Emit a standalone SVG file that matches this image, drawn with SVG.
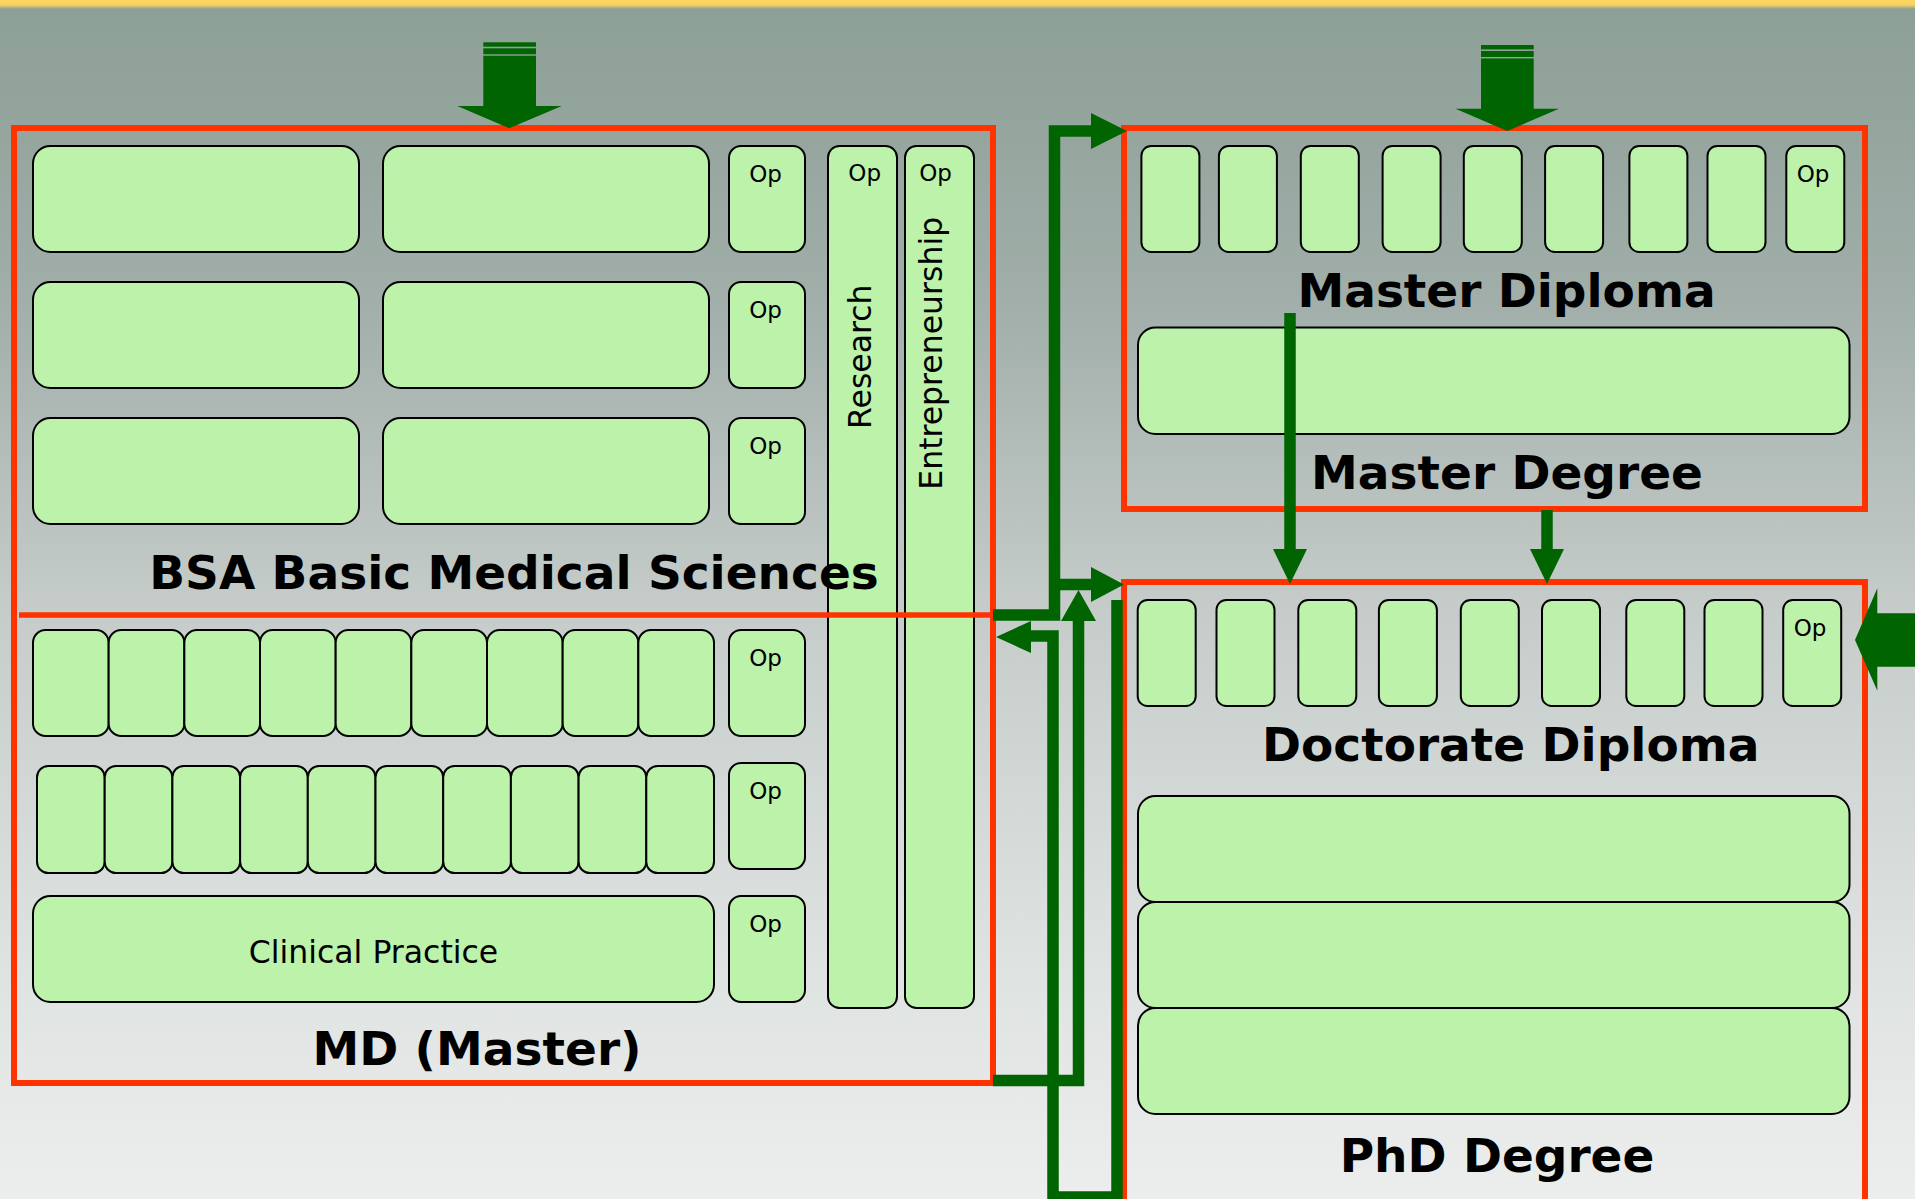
<svg xmlns="http://www.w3.org/2000/svg" width="1915" height="1199" viewBox="0 0 1915 1199">
<defs>
<linearGradient id="bg" x1="0" y1="0" x2="0" y2="1">
<stop offset="0" stop-color="#8c9f96"/>
<stop offset="0.25" stop-color="#a1aea9"/>
<stop offset="0.5" stop-color="#c4cbc8"/>
<stop offset="0.75" stop-color="#dadfdd"/>
<stop offset="1" stop-color="#eceeed"/>
</linearGradient>
<linearGradient id="yl" x1="0" y1="0" x2="0" y2="1">
<stop offset="0" stop-color="#fbd660"/>
<stop offset="0.55" stop-color="#f7d262"/>
<stop offset="1" stop-color="#8c9f96"/>
</linearGradient>
<style>
.g{fill:#bcf2aa;stroke:#000;stroke-width:2}
.red{fill:none;stroke:#ff3300;stroke-width:6}
.t{font-family:"DejaVu Sans",Verdana,sans-serif;fill:#000}
.title{font-size:47px;font-weight:bold;text-anchor:middle}
.op{font-size:23px;text-anchor:middle}
.lbl{font-size:31.5px;text-anchor:middle}
.conn{fill:none;stroke:#006400;stroke-width:11.5;stroke-linejoin:miter;stroke-linecap:butt}
.head{fill:#006400}
</style>
</defs>
<rect x="0" y="0" width="1915" height="1199" fill="url(#bg)"/>
<rect x="0" y="0" width="1915" height="9" fill="url(#yl)"/>

<g id="bsa-md">
<rect class="red" x="14" y="128" width="979" height="955"/>
<g id="bsa-row1">
<rect class="g" x="33" y="146" width="326" height="106" rx="17.5"/>
<rect class="g" x="383" y="146" width="326" height="106" rx="17.5"/>
<rect class="g" x="729" y="146" width="76" height="106" rx="12"/>
<text class="t op" x="765.6" y="182">Op</text>
</g>
<g id="bsa-row2">
<rect class="g" x="33" y="282" width="326" height="106" rx="17.5"/>
<rect class="g" x="383" y="282" width="326" height="106" rx="17.5"/>
<rect class="g" x="729" y="282" width="76" height="106" rx="12"/>
<text class="t op" x="765.6" y="318">Op</text>
</g>
<g id="bsa-row3">
<rect class="g" x="33" y="418" width="326" height="106" rx="17.5"/>
<rect class="g" x="383" y="418" width="326" height="106" rx="17.5"/>
<rect class="g" x="729" y="418" width="76" height="106" rx="12"/>
<text class="t op" x="765.6" y="454">Op</text>
</g>
<g id="research">
<rect class="g" x="828" y="146" width="69" height="862" rx="11.5"/>
<text class="t op" x="864.7" y="181">Op</text>
<text class="t lbl" x="871" y="356.7" transform="rotate(-90 871 356.7)">Research</text>
</g>
<g id="entrepreneurship">
<rect class="g" x="905" y="146" width="69" height="862" rx="11.5"/>
<text class="t op" x="935.5" y="181">Op</text>
<text class="t lbl" x="942" y="353.3" transform="rotate(-90 942 353.3)">Entrepreneurship</text>
</g>
<g id="md-rowA">
<rect class="g" x="33" y="630" width="75.67" height="106" rx="12.6"/>
<rect class="g" x="108.67" y="630" width="75.67" height="106" rx="12.6"/>
<rect class="g" x="184.33" y="630" width="75.67" height="106" rx="12.6"/>
<rect class="g" x="260" y="630" width="75.67" height="106" rx="12.6"/>
<rect class="g" x="335.67" y="630" width="75.67" height="106" rx="12.6"/>
<rect class="g" x="411.33" y="630" width="75.67" height="106" rx="12.6"/>
<rect class="g" x="487" y="630" width="75.67" height="106" rx="12.6"/>
<rect class="g" x="562.67" y="630" width="75.67" height="106" rx="12.6"/>
<rect class="g" x="638.33" y="630" width="75.67" height="106" rx="12.6"/>
<rect class="g" x="729" y="630" width="76" height="106" rx="12"/>
<text class="t op" x="765.6" y="666">Op</text>
</g>
<g id="md-rowB">
<rect class="g" x="37" y="766" width="67.7" height="107" rx="11.3"/>
<rect class="g" x="104.7" y="766" width="67.7" height="107" rx="11.3"/>
<rect class="g" x="172.4" y="766" width="67.7" height="107" rx="11.3"/>
<rect class="g" x="240.1" y="766" width="67.7" height="107" rx="11.3"/>
<rect class="g" x="307.8" y="766" width="67.7" height="107" rx="11.3"/>
<rect class="g" x="375.5" y="766" width="67.7" height="107" rx="11.3"/>
<rect class="g" x="443.2" y="766" width="67.7" height="107" rx="11.3"/>
<rect class="g" x="510.9" y="766" width="67.7" height="107" rx="11.3"/>
<rect class="g" x="578.6" y="766" width="67.7" height="107" rx="11.3"/>
<rect class="g" x="646.3" y="766" width="67.7" height="107" rx="11.3"/>
<rect class="g" x="729" y="763" width="76" height="106" rx="12"/>
<text class="t op" x="765.6" y="799">Op</text>
</g>
<g id="md-rowC">
<rect class="g" x="33" y="896" width="681" height="106" rx="17.5"/>
<text class="t lbl" x="373.5" y="963">Clinical Practice</text>
<rect class="g" x="729" y="896" width="76" height="106" rx="12"/>
<text class="t op" x="765.6" y="932">Op</text>
</g>
<line x1="19" y1="615" x2="993" y2="615" stroke="#ff3300" stroke-width="5.5"/>
<text class="t title" x="514" y="589">BSA Basic Medical Sciences</text>
<text class="t title" x="477" y="1065">MD (Master)</text>
</g>

<g id="master">
<rect class="red" x="1124" y="128" width="741" height="381"/>
<rect class="g" x="1141.4" y="146" width="58" height="106" rx="9.7"/>
<rect class="g" x="1218.9" y="146" width="58" height="106" rx="9.7"/>
<rect class="g" x="1300.8" y="146" width="58" height="106" rx="9.7"/>
<rect class="g" x="1382.6" y="146" width="58" height="106" rx="9.7"/>
<rect class="g" x="1463.8" y="146" width="58" height="106" rx="9.7"/>
<rect class="g" x="1545.1" y="146" width="58" height="106" rx="9.7"/>
<rect class="g" x="1629.4" y="146" width="58" height="106" rx="9.7"/>
<rect class="g" x="1707.5" y="146" width="58" height="106" rx="9.7"/>
<rect class="g" x="1786.3" y="146" width="58" height="106" rx="9.7"/>
<text class="t op" x="1813" y="182">Op</text>
<text class="t title" x="1506.5" y="307">Master Diploma</text>
<rect class="g" x="1138" y="327.5" width="711.5" height="106.5" rx="17.5"/>
<text class="t title" x="1507" y="489">Master Degree</text>
</g>

<g id="doctorate">
<rect class="red" x="1124" y="582" width="741" height="700"/>
<rect class="g" x="1137.7" y="600" width="58" height="106" rx="9.7"/>
<rect class="g" x="1216.5" y="600" width="58" height="106" rx="9.7"/>
<rect class="g" x="1298.3" y="600" width="58" height="106" rx="9.7"/>
<rect class="g" x="1378.9" y="600" width="58" height="106" rx="9.7"/>
<rect class="g" x="1460.8" y="600" width="58" height="106" rx="9.7"/>
<rect class="g" x="1542" y="600" width="58" height="106" rx="9.7"/>
<rect class="g" x="1626.3" y="600" width="58" height="106" rx="9.7"/>
<rect class="g" x="1704.5" y="600" width="58" height="106" rx="9.7"/>
<rect class="g" x="1783.2" y="600" width="58" height="106" rx="9.7"/>
<text class="t op" x="1810" y="636">Op</text>
<text class="t title" x="1510.7" y="761">Doctorate Diploma</text>
<rect class="g" x="1138" y="796" width="711.5" height="106" rx="17.5"/>
<rect class="g" x="1138" y="902" width="711.5" height="106" rx="17.5"/>
<rect class="g" x="1138" y="1008" width="711.5" height="106" rx="17.5"/>
<text class="t title" x="1497" y="1172">PhD Degree</text>
</g>

<g id="connectors">
<g id="entry-bsa">
<rect class="head" x="483.3" y="42.3" width="52.7" height="4.4"/>
<rect class="head" x="483.3" y="48.3" width="52.7" height="6"/>
<rect class="head" x="483.3" y="55.7" width="52.7" height="51"/>
<polygon class="head" points="457.3,106 561.7,106 509.3,128.3"/>
</g>
<g id="entry-master">
<rect class="head" x="1481" y="45" width="52.7" height="4.4"/>
<rect class="head" x="1481" y="51" width="52.7" height="6"/>
<rect class="head" x="1481" y="58.4" width="52.7" height="51"/>
<polygon class="head" points="1455.5,108.7 1559,108.7 1507.3,131"/>
</g>
<g id="entry-doctorate">
<polygon class="head" points="1915,613.3 1877.3,613.3 1877.3,588.3 1855,640 1877.3,690.7 1877.3,666.7 1915,666.7"/>
</g>
<g id="bsa-to-master-doctorate">
<path class="conn" d="M993,615 H1054.5 V131 H1092"/>
<polygon class="head" points="1091,113 1127,131 1091,149"/>
<path class="conn" d="M1054.5,584.5 H1092"/>
<polygon class="head" points="1091,567 1124,584.5 1091,602"/>
</g>
<g id="doctorate-to-md">
<path class="conn" d="M1117,600 V1197 H1053 V636 H1031"/>
<polygon class="head" points="1031,621 996,637 1031,653"/>
</g>
<g id="md-to-doctorate">
<path class="conn" d="M993,1080.5 H1078.5 V620"/>
<polygon class="head" points="1061,621 1078.5,590 1096,621"/>
</g>
<g id="master-to-doctorate">
<path class="conn" d="M1290,313 V550"/>
<polygon class="head" points="1273,549 1290,584 1307,549"/>
<path class="conn" d="M1547,510 V550"/>
<polygon class="head" points="1530,549 1547,584 1564,549"/>
</g>
</g>
</svg>
